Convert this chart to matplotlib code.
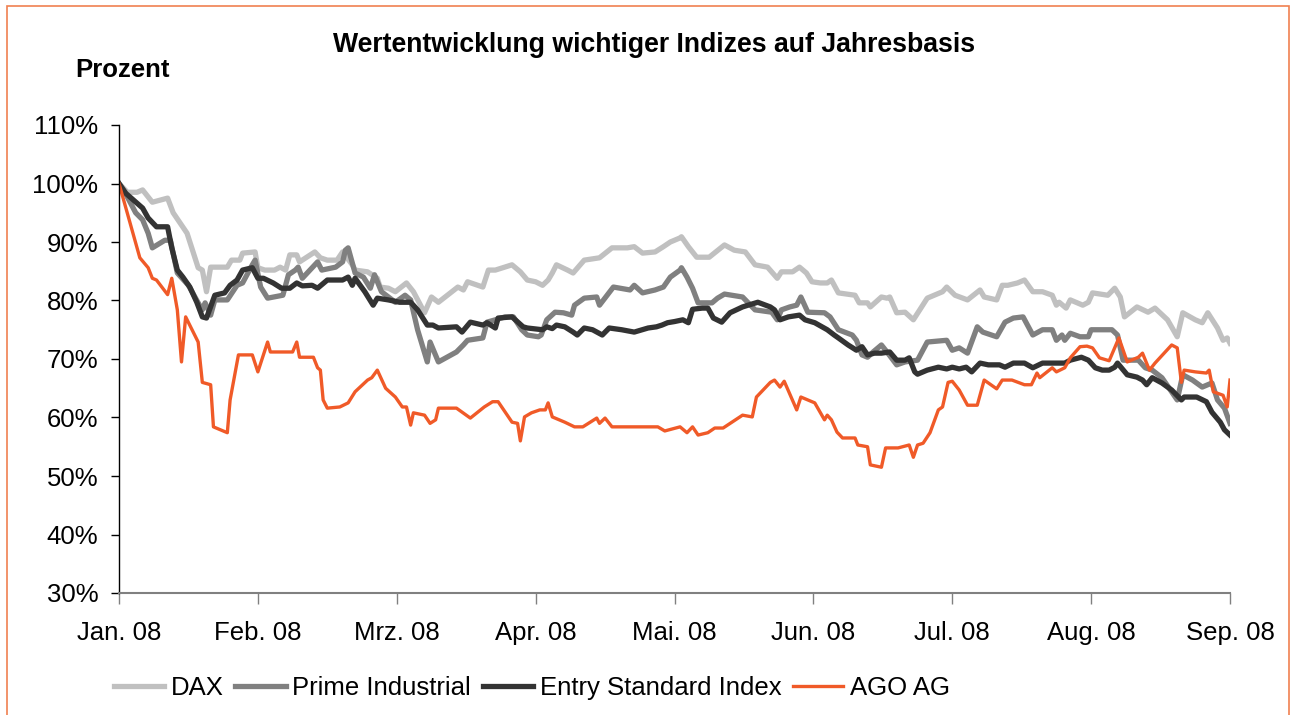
import matplotlib.pyplot as plt
from matplotlib.patches import Rectangle

# x positions in months since Jan. 08, values in percent
months = ['Jan. 08', 'Feb. 08', 'Mrz. 08', 'Apr. 08', 'Mai. 08',
          'Jun. 08', 'Jul. 08', 'Aug. 08', 'Sep. 08']

dax_x = [0.0, 0.06, 0.13, 0.17, 0.24, 0.35, 0.39, 0.45, 0.49, 0.57, 0.60, 0.63, 0.66, 0.78, 0.81, 0.87, 0.89,
         0.98, 1.00, 1.05, 1.12, 1.16, 1.20, 1.23, 1.28, 1.30, 1.41, 1.45, 1.50, 1.57, 1.61, 1.68, 1.70, 1.79,
         1.86, 1.88, 1.94, 1.99, 2.07, 2.12, 2.20, 2.25, 2.30, 2.44, 2.48, 2.51, 2.62, 2.66, 2.71, 2.83, 2.89,
         2.94, 3.00, 3.05, 3.09, 3.12, 3.15, 3.23, 3.27, 3.35, 3.46, 3.55, 3.66, 3.71, 3.77, 3.86, 3.92, 3.97,
         4.04, 4.05, 4.10, 4.16, 4.25, 4.36, 4.43, 4.51, 4.58, 4.67, 4.74, 4.77, 4.85, 4.90, 4.95, 4.99, 5.05,
         5.10, 5.13, 5.18, 5.30, 5.33, 5.39, 5.41, 5.49, 5.53, 5.55, 5.60, 5.66, 5.72, 5.82, 5.93, 5.96, 6.02,
         6.11, 6.20, 6.23, 6.32, 6.36, 6.40, 6.47, 6.52, 6.58, 6.65, 6.72, 6.75, 6.77, 6.82, 6.85, 6.94, 6.98,
         7.01, 7.12, 7.17, 7.21, 7.24, 7.33, 7.41, 7.46, 7.55, 7.62, 7.66, 7.75, 7.80, 7.84, 7.91, 7.95, 7.98, 8.0]
dax = [100, 98.5, 98.5, 98.9, 96.8, 97.5, 95.0, 92.9, 91.5, 85.6, 85.2, 81.5, 85.7, 85.7, 86.9, 86.9, 88.1,
       88.3, 85.6, 85.2, 85.2, 85.7, 85.2, 87.8, 87.8, 86.6, 88.3, 87.3, 86.9, 86.9, 88.3, 86.1, 85.2, 84.9,
       83.8, 82.3, 82.1, 81.5, 83.0, 81.5, 77.9, 80.6, 79.7, 82.3, 81.8, 83.2, 82.3, 85.2, 85.2, 86.1, 84.9,
       83.5, 83.2, 82.6, 83.5, 84.7, 86.1, 85.2, 84.7, 86.9, 87.3, 89.0, 89.0, 89.2, 88.1, 88.3, 89.2, 90.0,
       90.7, 90.9, 89.2, 87.4, 87.4, 89.5, 88.6, 88.3, 86.1, 85.7, 83.8, 84.9, 84.9, 85.7, 84.7, 83.2, 83.0,
       83.0, 83.5, 81.3, 80.9, 79.6, 79.6, 78.9, 80.6, 80.4, 80.6, 77.9, 78.0, 76.7, 80.4, 81.5, 82.3, 80.9,
       80.1, 81.8, 80.6, 80.1, 82.6, 82.6, 83.0, 83.5, 81.5, 81.5, 80.9, 79.2, 79.7, 78.7, 80.1, 79.2, 79.7,
       81.3, 80.9, 82.1, 80.6, 77.2, 78.9, 78.0, 78.7, 76.7, 73.8, 77.9, 76.7, 76.2, 77.9, 75.3, 73.2, 73.6, 72.7]

prime_x = [0.0, 0.06, 0.12, 0.17, 0.21, 0.24, 0.33, 0.37, 0.42, 0.50, 0.57, 0.60, 0.62, 0.66, 0.69, 0.78, 0.85,
           0.89, 0.96, 0.98, 1.02, 1.07, 1.18, 1.22, 1.27, 1.29, 1.32, 1.43, 1.46, 1.56, 1.61, 1.63, 1.65, 1.70,
           1.76, 1.81, 1.84, 1.89, 1.99, 2.06, 2.10, 2.15, 2.22, 2.24, 2.30, 2.43, 2.48, 2.51, 2.62, 2.65, 2.71,
           2.78, 2.84, 2.90, 2.94, 3.02, 3.04, 3.08, 3.14, 3.20, 3.26, 3.28, 3.35, 3.44, 3.46, 3.56, 3.68, 3.71,
           3.77, 3.86, 3.92, 3.97, 4.04, 4.05, 4.09, 4.13, 4.17, 4.27, 4.31, 4.36, 4.49, 4.58, 4.70, 4.74, 4.77,
           4.83, 4.88, 4.91, 4.96, 5.08, 5.12, 5.18, 5.28, 5.31, 5.35, 5.39, 5.43, 5.49, 5.53, 5.60, 5.66, 5.75,
           5.82, 5.96, 6.00, 6.05, 6.11, 6.18, 6.22, 6.32, 6.38, 6.44, 6.51, 6.58, 6.65, 6.72, 6.75, 6.79, 6.81,
           6.85, 6.92, 6.98, 7.00, 7.15, 7.19, 7.23, 7.34, 7.39, 7.44, 7.51, 7.62, 7.66, 7.73, 7.80, 7.87, 7.91,
           7.96, 8.0]
prime = [100, 97.7, 95.0, 93.8, 91.5, 89.0, 90.3, 90.3, 84.7, 82.6, 79.6, 78.4, 79.6, 77.5, 80.1, 80.1, 82.6,
         83.0, 86.1, 86.9, 82.3, 80.4, 80.9, 84.4, 85.2, 85.7, 83.8, 86.6, 85.2, 85.7, 86.6, 88.6, 89.0, 84.7,
         84.0, 82.1, 84.4, 81.5, 79.7, 80.9, 80.1, 75.0, 69.5, 72.9, 69.5, 71.2, 72.4, 73.2, 73.6, 76.3, 76.7,
         77.2, 77.2, 75.0, 74.1, 73.8, 74.1, 76.7, 78.0, 77.9, 77.5, 79.2, 80.4, 80.6, 79.2, 82.3, 81.8, 82.6,
         81.3, 81.8, 82.3, 84.0, 85.2, 85.6, 84.0, 82.1, 79.6, 79.6, 80.4, 81.1, 80.6, 78.4, 78.0, 76.7, 78.4,
         78.9, 79.2, 80.6, 78.0, 77.9, 77.2, 75.0, 74.1, 73.2, 70.7, 70.3, 71.2, 72.4, 71.2, 69.0, 69.5, 69.8,
         72.9, 73.2, 71.5, 71.9, 71.0, 75.5, 74.6, 73.8, 76.3, 77.0, 77.2, 74.1, 75.0, 75.0, 73.2, 74.1, 73.2,
         74.4, 73.8, 73.8, 75.0, 75.0, 74.1, 69.8, 69.8, 68.5, 68.1, 66.8, 63.0, 67.3, 66.4, 65.2, 65.9, 63.0,
         61.6, 59.0]

entry_x = [0.0, 0.05, 0.17, 0.21, 0.27, 0.35, 0.38, 0.42, 0.46, 0.51, 0.56, 0.60, 0.63, 0.69, 0.76, 0.80, 0.85,
           0.89, 0.96, 1.00, 1.04, 1.11, 1.17, 1.23, 1.28, 1.32, 1.39, 1.43, 1.50, 1.61, 1.65, 1.68, 1.70, 1.77,
           1.83, 1.86, 1.94, 2.02, 2.10, 2.15, 2.22, 2.26, 2.30, 2.43, 2.47, 2.53, 2.62, 2.65, 2.71, 2.73, 2.83,
           2.91, 2.94, 3.05, 3.08, 3.12, 3.15, 3.21, 3.27, 3.30, 3.35, 3.41, 3.48, 3.53, 3.62, 3.71, 3.81, 3.87,
           3.91, 3.95, 4.00, 4.06, 4.10, 4.13, 4.20, 4.24, 4.28, 4.34, 4.40, 4.49, 4.53, 4.60, 4.69, 4.72, 4.76,
           4.82, 4.90, 4.94, 5.01, 5.10, 5.15, 5.18, 5.25, 5.31, 5.35, 5.39, 5.44, 5.49, 5.55, 5.60, 5.66, 5.69,
           5.73, 5.75, 5.82, 5.90, 5.96, 6.00, 6.05, 6.10, 6.14, 6.20, 6.26, 6.34, 6.38, 6.44, 6.52, 6.58, 6.65,
           6.81, 6.85, 6.93, 6.98, 7.03, 7.08, 7.13, 7.17, 7.19, 7.26, 7.33, 7.37, 7.40, 7.44, 7.51, 7.58, 7.65,
           7.67, 7.76, 7.83, 7.87, 7.93, 7.96, 8.0]
entry = [100, 98.3, 95.8, 94.1, 92.6, 92.6, 89.0, 85.2, 84.0, 82.3, 79.7, 77.2, 77.0, 80.9, 81.3, 82.6, 83.5,
         85.2, 85.6, 83.8, 83.8, 83.0, 82.1, 82.1, 83.0, 82.5, 82.6, 82.1, 83.5, 83.5, 84.0, 82.6, 83.8, 81.5,
         79.2, 80.4, 80.1, 79.7, 79.7, 78.4, 75.8, 75.8, 75.3, 75.5, 74.6, 76.3, 75.8, 76.2, 75.3, 77.0, 77.2,
         75.5, 75.3, 75.0, 75.5, 75.2, 75.8, 75.5, 74.6, 74.1, 75.3, 75.0, 74.1, 75.3, 75.0, 74.6, 75.3, 75.5,
         75.8, 76.2, 76.4, 76.7, 76.2, 78.5, 78.7, 78.7, 77.0, 76.3, 77.9, 78.9, 79.2, 79.7, 78.9, 78.4, 76.7,
         77.2, 77.5, 76.7, 76.2, 75.0, 74.1, 73.6, 72.4, 71.5, 72.1, 70.7, 71.0, 71.0, 71.2, 69.8, 69.8, 70.2,
         67.8, 67.4, 68.1, 68.6, 68.3, 68.6, 68.3, 68.6, 67.8, 69.3, 69.0, 69.0, 68.6, 69.3, 69.3, 68.5, 69.3,
         69.3, 69.8, 70.3, 69.8, 68.5, 68.1, 68.1, 68.6, 69.3, 67.3, 66.9, 66.4, 65.6, 66.8, 65.9, 64.7, 63.0,
         63.5, 63.5, 62.7, 60.9, 59.2, 57.9, 57.0]

ago_x = [0.0, 0.15, 0.21, 0.24, 0.27, 0.35, 0.38, 0.42, 0.45, 0.48, 0.57, 0.60, 0.66, 0.68, 0.78, 0.80, 0.86,
         0.96, 1.00, 1.07, 1.09, 1.25, 1.28, 1.30, 1.40, 1.43, 1.45, 1.47, 1.50, 1.59, 1.65, 1.70, 1.79, 1.82,
         1.86, 1.92, 1.99, 2.04, 2.07, 2.10, 2.12, 2.20, 2.24, 2.28, 2.30, 2.43, 2.53, 2.63, 2.69, 2.73, 2.83,
         2.87, 2.89, 2.92, 2.97, 3.03, 3.07, 3.09, 3.12, 3.21, 3.28, 3.34, 3.44, 3.46, 3.50, 3.55, 3.88, 3.93,
         4.04, 4.09, 4.13, 4.17, 4.24, 4.29, 4.35, 4.49, 4.56, 4.59, 4.69, 4.72, 4.76, 4.79, 4.88, 4.91, 4.99,
         5.01, 5.08, 5.10, 5.13, 5.17, 5.21, 5.30, 5.32, 5.39, 5.41, 5.49, 5.52, 5.61, 5.69, 5.72, 5.75, 5.79,
         5.84, 5.90, 5.93, 5.97, 6.00, 6.05, 6.11, 6.18, 6.23, 6.32, 6.36, 6.43, 6.52, 6.57, 6.61, 6.63, 6.72,
         6.75, 6.81, 6.85, 6.92, 6.97, 7.01, 7.06, 7.13, 7.20, 7.26, 7.34, 7.37, 7.42, 7.46, 7.58, 7.62, 7.65,
         7.67, 7.75, 7.83, 7.85, 7.88, 7.95, 7.98, 8.0]
ago = [100, 87.3, 85.6, 83.8, 83.5, 81.0, 83.8, 78.4, 69.5, 77.2, 72.9, 66.0, 65.6, 58.4, 57.4, 63.0, 70.7,
       70.7, 67.8, 72.9, 71.2, 71.2, 72.9, 70.3, 70.3, 68.5, 68.1, 63.0, 61.6, 61.8, 62.5, 64.4, 66.4, 66.8,
       68.1, 65.0, 63.5, 61.8, 61.8, 58.7, 60.8, 60.4, 59.0, 59.6, 61.6, 61.6, 59.9, 61.8, 62.7, 62.7, 59.2,
       59.0, 56.0, 60.1, 60.8, 61.3, 61.3, 62.5, 60.1, 59.2, 58.4, 58.4, 59.9, 59.0, 59.9, 58.4, 58.4, 57.7,
       58.4, 57.4, 58.4, 57.0, 57.4, 58.2, 58.2, 60.4, 60.1, 63.5, 66.0, 66.4, 65.2, 66.2, 61.3, 63.5, 62.7,
       62.5, 59.6, 60.4, 59.6, 57.5, 56.5, 56.5, 55.3, 55.0, 51.9, 51.5, 54.8, 54.8, 55.3, 53.2, 55.3, 55.6,
       57.4, 61.3, 61.8, 66.0, 66.2, 64.7, 62.1, 62.1, 66.4, 64.9, 66.4, 66.4, 65.6, 65.6, 67.6, 66.8, 68.5,
       67.8, 68.5, 70.2, 72.1, 72.2, 71.9, 70.2, 69.7, 73.6, 69.5, 70.3, 71.0, 68.1, 69.3, 72.4, 71.9, 66.0,
       68.1, 67.8, 67.6, 68.1, 64.4, 63.8, 61.8, 66.4]

W, H = 1297, 715
fig = plt.figure(figsize=(W / 100, H / 100), dpi=100)
plt.rcParams['font.family'] = ['Liberation Sans', 'DejaVu Sans']

ax = fig.add_axes([119 / W, 1 - 593 / H, (1230 - 119) / W, (593 - 125) / H])

ax.plot(dax_x, dax, color='#c0c0c0', lw=3.8, label='DAX', solid_joinstyle='round')
ax.plot(prime_x, prime, color='#808080', lw=3.8, label='Prime Industrial', solid_joinstyle='round')
ax.plot(entry_x, entry, color='#333333', lw=3.8, label='Entry Standard Index', solid_joinstyle='round')
ax.plot(ago_x, ago, color='#f05a28', lw=2.4, label='AGO AG', solid_joinstyle='round')

ax.set_xlim(0, 8)
ax.set_ylim(30, 110)
ax.set_xticks(range(len(months)))
ax.set_xticklabels(months, fontsize=18.5)
yt = list(range(30, 111, 10))
ax.set_yticks(yt)
ax.set_yticklabels([f'{v}%' for v in yt], fontsize=18.5)
ax.tick_params(axis='x', direction='out', length=8, width=1, pad=12, colors='#808080', labelcolor='black')
ax.tick_params(axis='y', direction='out', length=6, width=1, pad=9)

for s in ['top', 'right']:
    ax.spines[s].set_visible(False)
ax.spines['bottom'].set_color('#808080')
ax.spines['bottom'].set_linewidth(1.5)
ax.spines['left'].set_color('black')
ax.spines['left'].set_linewidth(1)

fig.text(654 / W, 1 - 45 / H, 'Wertentwicklung wichtiger Indizes auf Jahresbasis',
         ha='center', va='center', fontsize=19.2, fontweight='bold')
fig.text(75 / W, 1 - 70 / H, 'Prozent', ha='left', va='center', fontsize=18.5, fontweight='bold')

fig.legend(loc='center', bbox_to_anchor=(532 / W, 1 - 688 / H), ncol=4, frameon=False,
           fontsize=18.5, handlelength=1.95, handletextpad=0.27, columnspacing=0.45)

# orange frame around the chart
fig.patches.append(Rectangle((7 / W, -0.02), (1289 - 7) / W, 1.02 - 6 / H, transform=fig.transFigure,
                             fill=False, edgecolor='#f08050', lw=1.2))

fig.savefig('out.png', dpi=100)
